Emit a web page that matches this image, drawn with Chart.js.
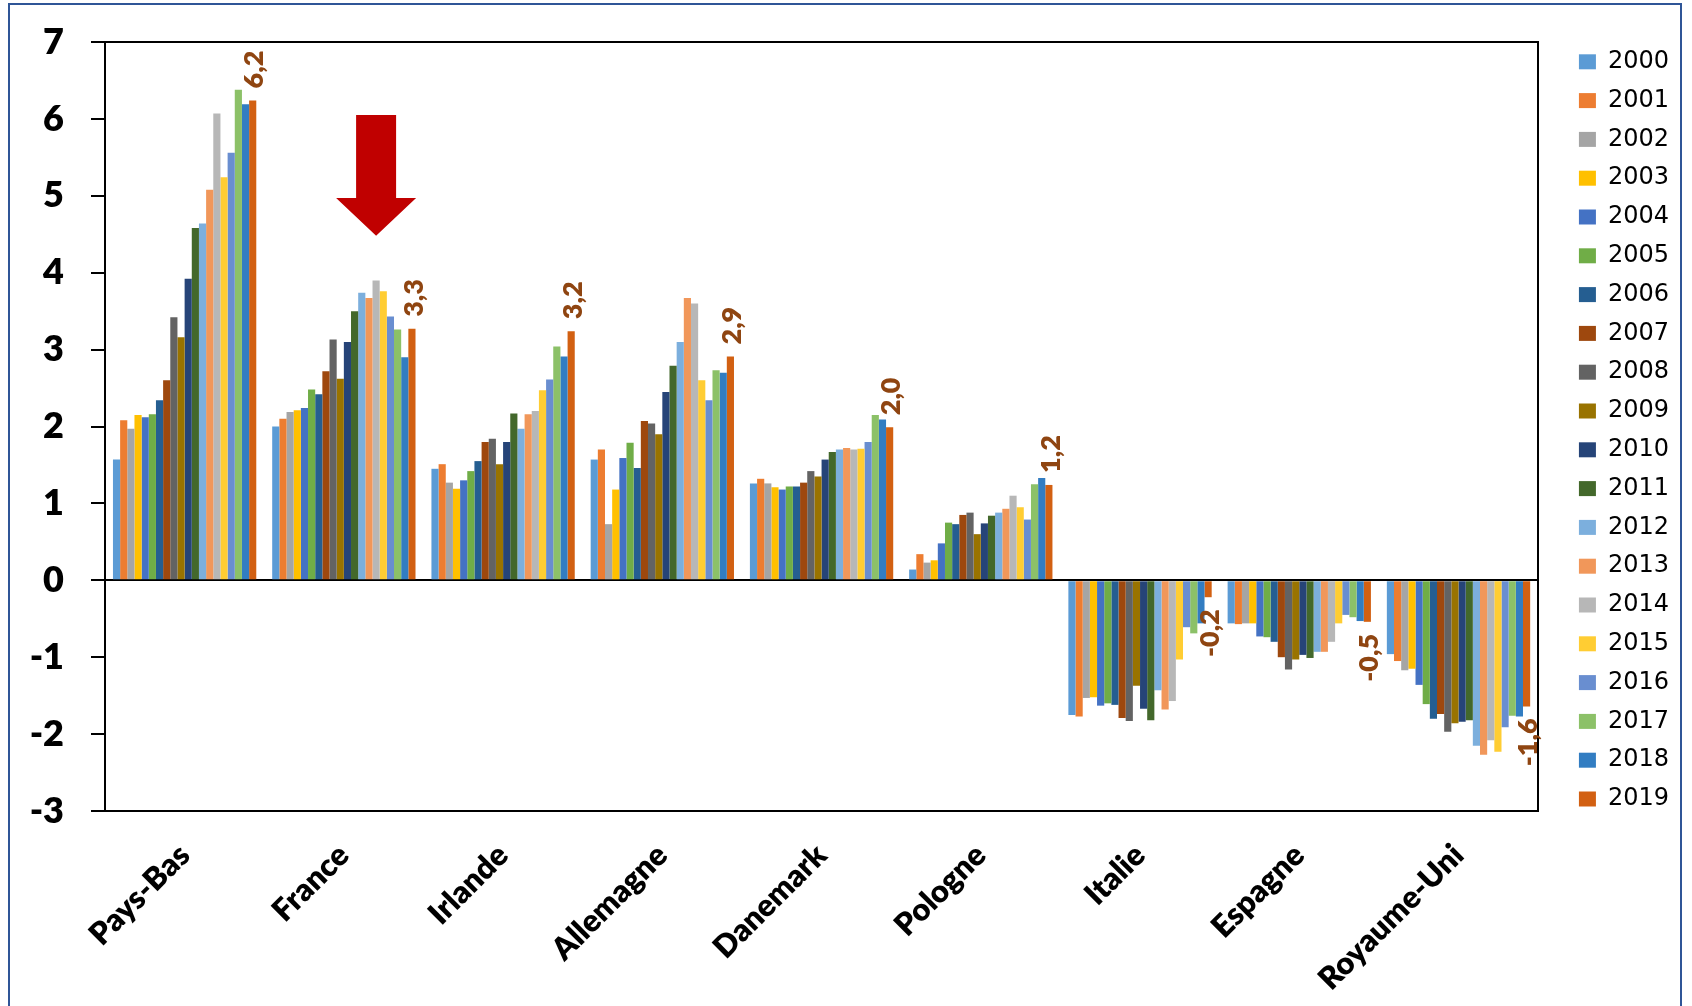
<!DOCTYPE html>
<html>
<head>
<meta charset="utf-8">
<script src="https://cdn.jsdelivr.net/npm/chart.js@4.4.1/dist/chart.umd.min.js"></script>
<style>
  body  { margin: 0; background: #fff; }
  #cadre { position: absolute; left: 8px; top: 3px; width: 1670px; height: 1100px; border: 2px solid #2f5597; pointer-events: none; }
  canvas { position: absolute; left: 0; top: 0; }
</style>
</head>
<body>
<canvas id="chart" width="1692" height="1006"></canvas>
<div id="cadre"></div>
<script>
const pays   = ['Pays-Bas', 'France', 'Irlande', 'Allemagne', 'Danemark', 'Pologne', 'Italie', 'Espagne', 'Royaume-Uni'];
const annees = ['2000','2001','2002','2003','2004','2005','2006','2007','2008','2009',
                '2010','2011','2012','2013','2014','2015','2016','2017','2018','2019'];

// une valeur par année, 2000 -> 2019
const paysBas    = [1.57, 2.08, 1.97, 2.15, 2.12, 2.16, 2.34, 2.60, 3.42, 3.16, 3.92, 4.58, 4.64, 5.08, 6.07, 5.24, 5.56, 6.38, 6.19, 6.24];
const france     = [2.00, 2.10, 2.19, 2.21, 2.24, 2.48, 2.42, 2.72, 3.13, 2.62, 3.10, 3.50, 3.74, 3.67, 3.90, 3.76, 3.43, 3.26, 2.90, 3.27];
const irlande    = [1.45, 1.51, 1.27, 1.19, 1.30, 1.42, 1.55, 1.80, 1.84, 1.51, 1.80, 2.17, 1.97, 2.16, 2.20, 2.47, 2.61, 3.04, 2.91, 3.24];
const allemagne  = [1.57, 1.70, 0.73, 1.18, 1.59, 1.79, 1.46, 2.07, 2.04, 1.90, 2.45, 2.79, 3.10, 3.67, 3.60, 2.60, 2.34, 2.73, 2.70, 2.91];
const danemark   = [1.26, 1.32, 1.26, 1.21, 1.18, 1.22, 1.22, 1.27, 1.42, 1.35, 1.57, 1.67, 1.70, 1.72, 1.70, 1.71, 1.80, 2.15, 2.09, 1.99];
const pologne    = [0.14, 0.34, 0.23, 0.26, 0.48, 0.75, 0.73, 0.85, 0.88, 0.60, 0.74, 0.84, 0.88, 0.93, 1.10, 0.95, 0.79, 1.25, 1.33, 1.24];
const italie     = [-1.75, -1.77, -1.53, -1.52, -1.63, -1.60, -1.62, -1.79, -1.83, -1.37, -1.67, -1.82, -1.43, -1.68, -1.57, -1.03, -0.61, -0.69, -0.56, -0.22];
const espagne    = [-0.56, -0.57, -0.56, -0.56, -0.73, -0.74, -0.80, -1.00, -1.16, -1.03, -0.97, -1.01, -0.93, -0.93, -0.80, -0.56, -0.45, -0.48, -0.53, -0.54];
const royaumeUni = [-0.96, -1.05, -1.17, -1.15, -1.36, -1.61, -1.80, -1.74, -1.97, -1.86, -1.84, -1.82, -2.15, -2.27, -2.08, -2.23, -1.91, -1.76, -1.77, -1.64];

const valeursPays = [paysBas, france, irlande, allemagne, danemark, pologne, italie, espagne, royaumeUni];

const couleurs = ['#5b9bd5','#ed7d31','#a5a5a5','#ffc000','#4472c4','#70ad47','#255e91','#9e480e','#636363','#997300',
                  '#264478','#43682b','#7cafdd','#f1975a','#b7b7b7','#ffcd33','#698ed0','#8cc168','#327dc2','#d26012'];

// flèche rouge au-dessus de la France (valeurs sur l'axe Y)
const flecheHaut   = 6.05;
const flecheCou    = 4.97;
const flechePointe = 4.48;

const datasets = annees.map((an, i) => ({
  label: an,
  data: valeursPays.map(v => v[i]),
  backgroundColor: couleurs[i],
  borderWidth: 0,
  barPercentage: 1.0,
  categoryPercentage: 0.9
}));

// étiquettes de la dernière année, verticales, au bout des barres
const etiquettes2019 = {
  id: 'etiquettes2019',
  afterDatasetsDraw(chart)
  {
    const ctx  = chart.ctx;
    const idx  = annees.length - 1;
    const meta = chart.getDatasetMeta(idx);
    ctx.save();
    ctx.fillStyle = '#8f4511';
    ctx.font = '800 27px Lato';
    ctx.textBaseline = 'middle';
    meta.data.forEach((bar, i) =>
    {
      const v   = chart.data.datasets[idx].data[i];
      const txt = v.toFixed(1).replace('.', ',');
      ctx.save();
      if (v >= 0) { ctx.translate(bar.x + 2, bar.y - 12); ctx.rotate(-Math.PI / 2); ctx.textAlign = 'left'; }
      else        { ctx.translate(bar.x + 2, bar.y + 12); ctx.rotate(-Math.PI / 2); ctx.textAlign = 'right'; }
      ctx.fillText(txt, 0, 0);
      ctx.restore();
    });
    ctx.restore();
  }
};

const fleche = {
  id: 'fleche',
  afterDatasetsDraw(chart)
  {
    const ctx = chart.ctx;
    const y   = chart.scales.y;
    const x   = chart.getDatasetMeta(14).data[1].x;   // barre France 2014
    const yH  = y.getPixelForValue(flecheHaut);
    const yC  = y.getPixelForValue(flecheCou);
    const yP  = y.getPixelForValue(flechePointe);
    ctx.save();
    ctx.fillStyle = '#c00000';
    ctx.beginPath();
    ctx.moveTo(x - 20, yH);
    ctx.lineTo(x + 20, yH);
    ctx.lineTo(x + 20, yC);
    ctx.lineTo(x + 40, yC);
    ctx.lineTo(x, yP);
    ctx.lineTo(x - 40, yC);
    ctx.lineTo(x - 20, yC);
    ctx.closePath();
    ctx.fill();
    ctx.restore();
  }
};

const lignesNoires = [0, 7, -3];

new Chart(document.getElementById('chart'), {
  type: 'bar',
  data: { labels: pays, datasets: datasets },
  plugins: [etiquettes2019, fleche],
  options: {
    responsive: false,
    animation: false,
    layout: { padding: { top: 0, left: 0, bottom: 0, right: 13 } },
    plugins: {
      tooltip: { enabled: false },
      title: { display: true, text: ' ', font: { size: 10, lineHeight: 1 }, padding: { top: 16, bottom: 16 } },
      legend: {
        position: 'right',
        align: 'start',
        title: { display: true, text: ' ', font: { size: 20, lineHeight: 1.2 }, padding: { top: 7, bottom: 4 } },
        labels: {
          boxWidth: 17,
          boxHeight: 15,
          padding: 14.8,
          color: '#000',
          font: { family: 'DejaVu Sans', size: 24 }
        }
      }
    },
    scales: {
      x: {
        grid: { display: false, drawTicks: false },
        border: { display: true, color: '#000', width: 2 },
        ticks: {
          autoSkip: false,
          maxRotation: 45,
          minRotation: 45,
          padding: 26,
          color: '#000',
          font: { family: 'Lato', weight: 800, size: 31 }
        },
        afterFit: s => { s.height = 195; }
      },
      y: {
        min: -3,
        max: 7,
        ticks: { stepSize: 1, padding: 27, color: '#000', font: { family: 'Lato', weight: 800, size: 36 } },
        grid: {
          color: c => lignesNoires.includes(c.tick.value) ? '#000' : 'rgba(0,0,0,0)',
          lineWidth: 2,
          tickColor: '#000',
          tickWidth: 2,
          tickLength: 14
        },
        border: { display: true, color: '#000', width: 2 },
        afterFit: s => { s.width = 105; s.paddingTop = 20; s.paddingBottom = 20; }
      },
      y2: {
        position: 'right',
        min: 0,
        max: 1,
        ticks: { display: false },
        grid: { display: false, drawTicks: false },
        border: { display: true, color: '#000', width: 2 },
        afterFit: s => { s.width = 26; }
      }
    }
  }
});
</script>
</body>
</html>
